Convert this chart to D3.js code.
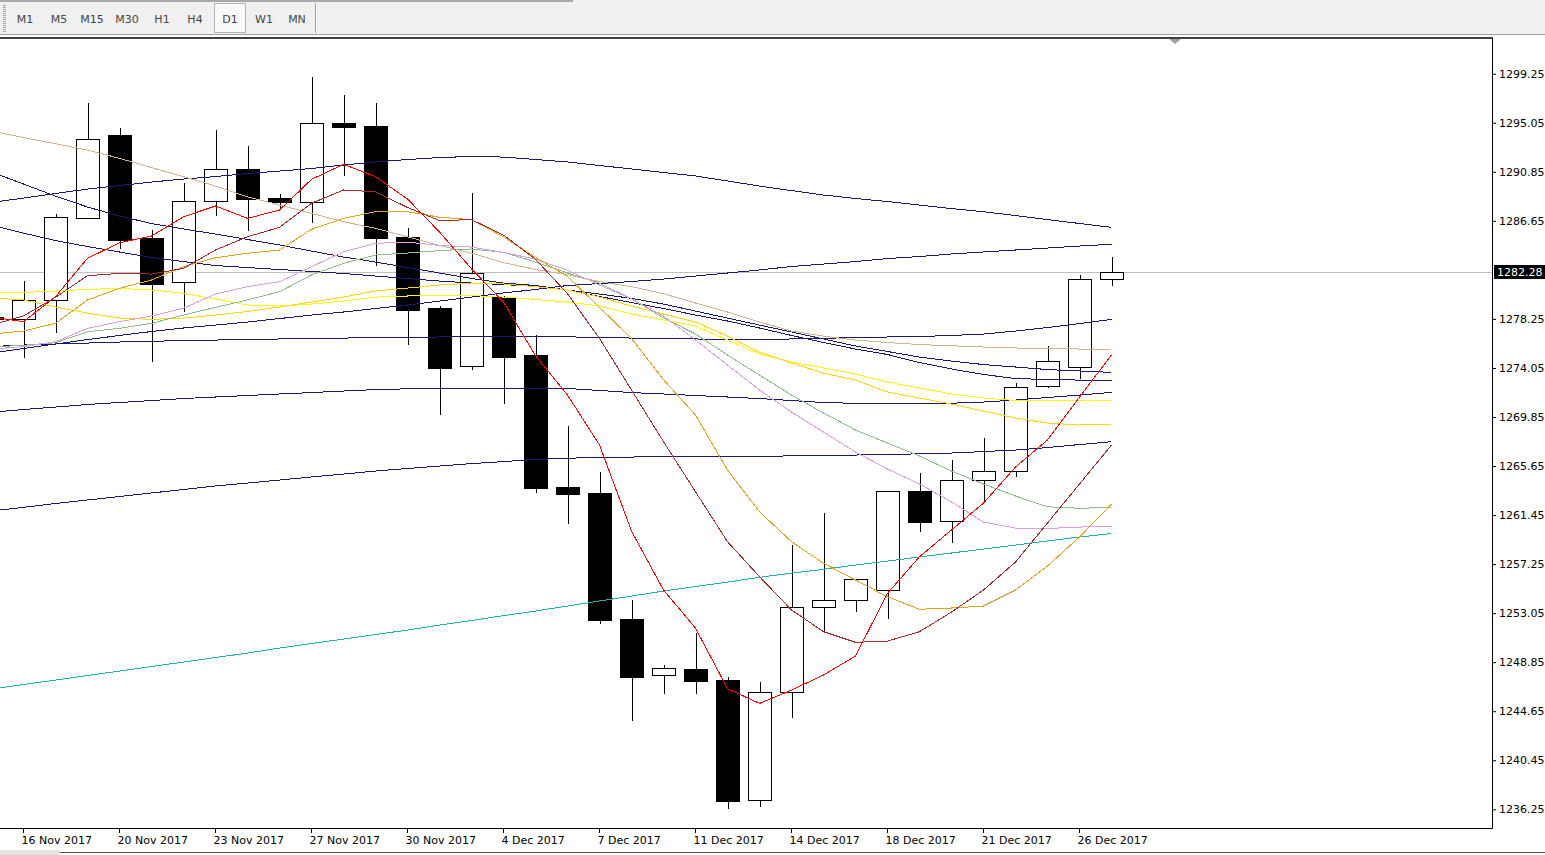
<!DOCTYPE html>
<html>
<head>
<meta charset="utf-8">
<script src="https://cdn.jsdelivr.net/npm/d3@7"></script>
<style>
  html, body { margin: 0; padding: 0; background: #fff; }
  svg { display: block; font-family: "DejaVu Sans", sans-serif; }
</style>
</head>
<body>
<script>
// Daily bars, XAUUSD D1 (15 Nov 2017 is only partly visible on the left edge)
const dates = ["2017-11-15","2017-11-16","2017-11-17","2017-11-19","2017-11-20","2017-11-21","2017-11-22","2017-11-23","2017-11-24",
  "2017-11-26","2017-11-27","2017-11-28","2017-11-29","2017-11-30","2017-12-01","2017-12-03","2017-12-04","2017-12-05",
  "2017-12-06","2017-12-07","2017-12-08","2017-12-10","2017-12-11","2017-12-12","2017-12-13","2017-12-14","2017-12-15",
  "2017-12-17","2017-12-18","2017-12-19","2017-12-20","2017-12-21","2017-12-22","2017-12-24","2017-12-26","2017-12-27"];
const opens  = [1278.45,1278.22,1279.87,1286.87,1294.00,1285.18,1281.38,1288.32,1291.09,1288.60,1288.24,1295.03,1294.77,1285.25,1279.17,1274.19,1280.15,1275.17,
  1263.87,1263.34,1252.55,1247.73,1248.27,1247.32,1237.02,1246.27,1253.55,1254.15,1255.01,1263.51,1260.91,1264.43,1265.20,1272.50,1274.10,1281.64];
const highs  = [1280.20,1281.50,1287.23,1296.74,1294.60,1285.86,1289.89,1294.43,1293.06,1288.95,1298.99,1297.43,1296.74,1286.04,1279.32,1289.02,1280.24,1276.87,
  1269.09,1265.14,1254.17,1248.63,1251.35,1247.55,1247.15,1258.89,1261.63,1255.95,1263.55,1265.05,1266.16,1268.05,1272.76,1275.93,1282.01,1283.55];
const lows   = [1276.90,1274.88,1277.07,1286.80,1284.24,1274.58,1278.87,1287.09,1285.80,1287.58,1286.49,1290.49,1282.81,1276.05,1270.06,1273.90,1271.00,1263.36,
  1260.71,1252.16,1243.81,1246.12,1246.15,1236.30,1236.47,1244.09,1251.46,1253.17,1252.57,1260.02,1259.03,1262.68,1264.73,1272.36,1273.13,1281.09];
const closes = [1278.21,1279.87,1286.98,1293.63,1285.03,1281.26,1288.32,1291.06,1288.54,1288.24,1295.00,1294.71,1285.20,1279.05,1274.07,1282.18,1275.01,1263.81,
  1263.22,1252.49,1247.61,1248.35,1247.26,1236.99,1246.27,1253.55,1254.15,1255.95,1263.48,1260.88,1264.43,1265.20,1272.39,1274.62,1281.64,1282.28];

// moving averages, one value per bar
const maRed = [1278.41,1278.01,1280.15,1283.44,1284.77,1285.35,1287.00,1287.92,1286.86,1287.57,1290.20,1291.49,1290.43,1288.52,1285.69,1282.54,1279.69,1275.10,
  1271.73,1267.45,1260.08,1255.03,1251.77,1246.58,1245.32,1246.46,1247.75,1249.38,1254.75,1257.88,1260.17,1262.48,1265.56,1267.88,1271.56,1275.16];
const maBrown = [1277.73,1278.50,1280.10,1281.95,1282.15,1282.09,1282.58,1284.15,1285.29,1286.09,1288.15,1289.29,1289.14,1287.79,1286.67,1286.75,1285.43,1283.36,
  1280.41,1276.58,1272.16,1267.73,1263.45,1259.17,1256.17,1253.32,1251.46,1250.55,1250.66,1251.46,1253.14,1255.03,1257.43,1260.77,1264.11,1267.45];
const maGoldenrod = [1276.95,1277.21,1277.87,1279.87,1280.87,1281.58,1282.72,1283.49,1283.87,1284.15,1285.92,1286.86,1287.43,1287.43,1286.96,1286.75,1285.28,1283.51,
  1281.89,1279.23,1276.58,1273.04,1270.02,1265.31,1261.73,1259.17,1257.32,1255.89,1254.45,1253.38,1253.49,1253.66,1255.03,1257.08,1259.57,1262.39];
const maTan = [1294.34,1293.78,1293.25,1292.71,1292.00,1291.21,1290.43,1289.63,1288.71,1288.00,1287.29,1286.57,1286.01,1285.28,1284.54,1283.89,1283.07,1282.48,
  1282.03,1281.44,1281.01,1280.41,1279.61,1278.84,1277.98,1277.21,1276.78,1276.44,1276.23,1276.05,1275.95,1275.84,1275.76,1275.70,1275.67,1275.64];
const maPlum = [1275.67,1275.87,1276.29,1277.44,1278.01,1278.50,1279.16,1280.38,1281.01,1281.43,1282.72,1284.00,1284.72,1284.83,1284.54,1284.40,1283.95,1283.36,
  1282.42,1281.15,1279.97,1278.50,1276.44,1274.30,1272.16,1270.27,1268.56,1266.85,1265.39,1264.11,1262.57,1260.85,1260.34,1260.30,1260.42,1260.51];
const maSeaGreen = [1275.84,1275.99,1276.21,1277.15,1277.44,1277.87,1278.58,1279.24,1279.87,1280.58,1282.01,1283.01,1283.72,1283.89,1284.10,1284.24,1283.95,1283.12,
  1282.18,1281.30,1279.97,1278.35,1276.95,1275.16,1273.44,1271.73,1270.19,1268.73,1267.62,1266.51,1265.22,1264.11,1263.08,1262.16,1262.03,1262.11];
const maYellow = [1280.47,1280.51,1280.64,1280.77,1280.87,1280.72,1280.44,1279.95,1279.44,1279.35,1279.52,1279.78,1280.12,1280.21,1280.29,1280.25,1280.12,1279.91,
  1279.69,1279.35,1278.67,1278.15,1277.64,1276.44,1275.24,1274.56,1274.04,1273.53,1272.84,1272.33,1271.82,1271.47,1271.26,1271.26,1271.30,1271.30];
const maGold = [1280.04,1279.87,1279.27,1278.75,1278.32,1278.21,1278.32,1278.58,1278.88,1279.27,1279.69,1280.12,1280.64,1280.89,1281.15,1281.30,1281.24,1281.01,
  1280.72,1280.12,1279.35,1278.67,1277.98,1276.78,1275.41,1274.47,1273.61,1273.01,1271.99,1271.47,1270.96,1270.36,1269.76,1269.33,1269.16,1269.25];
const maNavy1 = [1288.22,1288.60,1288.99,1289.37,1289.67,1289.97,1290.23,1290.44,1290.70,1290.91,1291.13,1291.43,1291.69,1291.90,1292.07,1292.16,1292.11,1291.90,
  1291.69,1291.39,1291.09,1290.79,1290.49,1290.06,1289.63,1289.24,1288.86,1288.56,1288.30,1288.00,1287.70,1287.43,1287.10,1286.76,1286.42,1286.09];
const maNavy2 = [1290.83,1289.80,1288.77,1287.83,1287.06,1286.42,1285.95,1285.52,1285.05,1284.58,1284.06,1283.55,1283.12,1282.65,1282.18,1281.71,1281.32,1281.11,
  1280.72,1280.17,1279.65,1279.14,1278.58,1278.07,1277.47,1276.83,1276.23,1275.67,1275.20,1274.51,1273.96,1273.49,1273.14,1273.06,1273.01,1273.01];
const maNavy3 = [1286.29,1285.60,1284.96,1284.45,1283.98,1283.51,1283.16,1282.82,1282.65,1282.48,1282.32,1282.14,1281.92,1281.71,1281.49,1281.32,1281.19,1281.04,
  1280.72,1280.38,1280.01,1279.52,1278.92,1278.32,1277.72,1277.13,1276.53,1275.93,1275.46,1274.98,1274.64,1274.34,1274.13,1273.91,1273.79,1273.67];
const maNavy4 = [1275.88,1276.01,1276.10,1276.18,1276.27,1276.33,1276.40,1276.44,1276.48,1276.53,1276.57,1276.61,1276.64,1276.67,1276.70,1276.71,1276.72,1276.72,
  1276.71,1276.67,1276.61,1276.57,1276.53,1276.50,1276.50,1276.53,1276.59,1276.65,1276.70,1276.74,1276.83,1276.95,1277.21,1277.51,1277.85,1278.21];
const maNavy5 = [1270.25,1270.49,1270.70,1270.92,1271.09,1271.26,1271.43,1271.56,1271.69,1271.82,1271.94,1272.07,1272.20,1272.26,1272.30,1272.33,1272.33,1272.33,
  1272.29,1272.12,1271.94,1271.82,1271.69,1271.56,1271.43,1271.26,1271.09,1271.02,1271.00,1271.00,1271.03,1271.13,1271.30,1271.52,1271.73,1271.96];
const maNavy6 = [1261.80,1262.11,1262.44,1262.74,1263.04,1263.34,1263.64,1263.94,1264.19,1264.45,1264.71,1264.96,1265.22,1265.44,1265.65,1265.86,1266.03,1266.21,
  1266.32,1266.38,1266.42,1266.44,1266.46,1266.48,1266.50,1266.51,1266.55,1266.59,1266.65,1266.69,1266.76,1266.89,1267.02,1267.23,1267.49,1267.73];
const maNavy7 = [1275.33,1275.71,1276.10,1276.48,1276.83,1277.17,1277.47,1277.72,1277.98,1278.28,1278.58,1278.84,1279.14,1279.44,1279.78,1280.12,1280.47,1280.77,
  1281.11,1281.28,1281.45,1281.66,1281.92,1282.18,1282.44,1282.74,1282.95,1283.16,1283.42,1283.59,1283.81,1283.98,1284.15,1284.32,1284.49,1284.64];
const maTeal = [1246.55,1246.94,1247.32,1247.71,1248.09,1248.48,1248.86,1249.25,1249.63,1250.06,1250.45,1250.83,1251.22,1251.60,1252.03,1252.42,1252.84,1253.23,
  1253.66,1254.09,1254.51,1254.94,1255.33,1255.71,1256.12,1256.48,1256.80,1257.17,1257.51,1257.86,1258.20,1258.54,1258.88,1259.23,1259.57,1259.87];

const priceTicks = [1236.25,1240.45,1244.65,1248.85,1253.05,1257.25,1261.45,1265.65,1269.85,1274.05,1278.25,1286.65,1290.85,1295.05,1299.25];
const dateTicks = ["2017-11-16","2017-11-20","2017-11-23","2017-11-27","2017-11-30","2017-12-04","2017-12-07","2017-12-11","2017-12-14","2017-12-18","2017-12-21","2017-12-26"];
const lastPrice = 1282.28;
const periods = ["M1","M5","M15","M30","H1","H4","D1","W1","MN"];

const W = 1545, H = 855;
const plot = { left: 0, right: 1492, top: 38, bottom: 828 };

const svg = d3.select("body").append("svg")
  .attr("width", W)
  .attr("height", H);

// toolbar strip
svg.append("rect").attr("x", 0).attr("y", 0).attr("width", W).attr("height", 36).attr("fill", "#f0f0f0");
svg.append("rect").attr("x", 0).attr("y", 0).attr("width", 573).attr("height", 2).attr("fill", "#a8a8a8");
svg.append("line").attr("x1", 0).attr("x2", W).attr("y1", 34.5).attr("y2", 34.5).attr("stroke", "#a0a0a0");
svg.append("rect").attr("x", 0).attr("y", 35).attr("width", W).attr("height", 2).attr("fill", "#fff");

// gripper dots
svg.append("g").selectAll("rect")
  .data(d3.range(5, 33, 2))
  .enter().append("rect")
  .attr("x", 3).attr("y", d => d).attr("width", 3).attr("height", 1).attr("fill", "#a0a0a0");

const periodX = [25, 59, 92, 127, 162, 195, 230, 264, 297];
svg.append("rect").attr("x", 214.5).attr("y", 3.5).attr("width", 31).attr("height", 29)
  .attr("fill", "#f9f9f9").attr("stroke", "#b4b4b4");
svg.append("g").selectAll("text")
  .data(periods)
  .enter().append("text")
  .attr("x", (d, i) => periodX[i])
  .attr("y", 23)
  .attr("text-anchor", "middle")
  .attr("font-size", 11)
  .attr("fill", "#444")
  .text(d => d);
svg.append("line").attr("x1", 315.5).attr("x2", 315.5).attr("y1", 3).attr("y2", 33).attr("stroke", "#a0a0a0");
svg.append("line").attr("x1", 316.5).attr("x2", 316.5).attr("y1", 3).attr("y2", 33).attr("stroke", "#fff");

// scales
const x = d3.scaleBand()
  .domain(dates)
  .range([-24.5, -24.5 + 32 * dates.length])
  .paddingInner(0.28)
  .paddingOuter(0.14);
const cx = d => x(d) + x.bandwidth() / 2;

const y = d3.scaleLinear()
  .domain([1236.25, 1299.25])
  .range([809.3, 73.7]);

svg.append("clipPath").attr("id", "plotclip")
  .append("rect").attr("x", 0).attr("y", plot.top + 1).attr("width", plot.right).attr("height", plot.bottom - plot.top - 1);

const chart = svg.append("g").attr("clip-path", "url(#plotclip)");

// current price line
chart.append("line")
  .attr("x1", 0).attr("x2", plot.right)
  .attr("y1", Math.round(y(lastPrice)) + 0.5).attr("y2", Math.round(y(lastPrice)) + 0.5)
  .attr("stroke", "#c0c0c0");

// candles
const bars = dates.map((d, i) => ({ date: d, o: opens[i], h: highs[i], l: lows[i], c: closes[i] }));

chart.selectAll(".wick")
  .data(bars)
  .enter().append("line")
  .attr("class", "wick")
  .attr("x1", d => Math.round(cx(d.date)) + 0.5)
  .attr("x2", d => Math.round(cx(d.date)) + 0.5)
  .attr("y1", d => y(d.h))
  .attr("y2", d => y(d.l))
  .attr("stroke", "#000")
  .attr("shape-rendering", "crispEdges");

chart.selectAll(".body")
  .data(bars)
  .enter().append("rect")
  .attr("class", "body")
  .attr("x", d => Math.round(cx(d.date) - 11.5) + 0.5)
  .attr("width", 23)
  .attr("y", d => Math.round(y(Math.max(d.o, d.c))) + 0.5)
  .attr("height", d => Math.max(1, Math.round(y(Math.min(d.o, d.c))) - Math.round(y(Math.max(d.o, d.c)))))
  .attr("fill", d => d.c >= d.o ? "#fff" : "#000")
  .attr("stroke", "#000")
  .attr("shape-rendering", "crispEdges");

// moving averages drawn on top of the candles
const mas = [
  { values: maTeal, color: "#20b2aa" },
  { values: maNavy1, color: "#191970" },
  { values: maNavy2, color: "#191970" },
  { values: maNavy3, color: "#191970" },
  { values: maNavy4, color: "#191970" },
  { values: maNavy5, color: "#191970" },
  { values: maNavy6, color: "#191970" },
  { values: maNavy7, color: "#191970" },
  { values: maTan, color: "#d2b48c" },
  { values: maYellow, color: "#ffff00" },
  { values: maGold, color: "#ffd700" },
  { values: maSeaGreen, color: "#8fbc8f" },
  { values: maPlum, color: "#dda0dd" },
  { values: maGoldenrod, color: "#daa520" },
  { values: maBrown, color: "#a52a2a" },
  { values: maRed, color: "#ff0000" }
];

const line = d3.line()
  .x((d, i) => cx(dates[i]))
  .y(d => y(d));

chart.selectAll(".ma")
  .data(mas)
  .enter().append("path")
  .attr("class", "ma")
  .attr("d", d => line(d.values))
  .attr("fill", "none")
  .attr("stroke", d => d.color)
  .attr("stroke-width", 1)
  .attr("shape-rendering", "crispEdges");

// frame
svg.append("line").attr("x1", 0).attr("x2", plot.right + 0.5).attr("y1", 38).attr("y2", 38).attr("stroke", "#000").attr("stroke-width", 1.5);
svg.append("line").attr("x1", plot.right + 0.5).attr("x2", plot.right + 0.5).attr("y1", 37.5).attr("y2", plot.bottom + 0.5).attr("stroke", "#000");
svg.append("line").attr("x1", 0).attr("x2", plot.right + 0.5).attr("y1", plot.bottom + 0.5).attr("y2", plot.bottom + 0.5).attr("stroke", "#000");

// shift marker
svg.append("path").attr("d", "M1169,39 L1181,39 L1175,44 Z").attr("fill", "#a0a0a0");

// price axis
svg.append("g")
  .attr("transform", `translate(${plot.right},0)`)
  .call(d3.axisRight(y).tickValues(priceTicks).tickSize(4).tickPadding(3).tickFormat(d3.format(".2f")))
  .call(g => g.select(".domain").remove())
  .call(g => g.selectAll("text").attr("font-family", "DejaVu Sans").attr("font-size", 11).attr("fill", "#000"))
  .call(g => g.selectAll("line").attr("stroke", "#000"));

// last price label, centred on the price line
const py = Math.round(y(lastPrice));
svg.append("rect").attr("x", 1494).attr("y", py - 7).attr("width", 51).attr("height", 14).attr("fill", "#000");
svg.append("text").attr("x", 1497).attr("y", py + 4).attr("font-size", 11).attr("fill", "#fff").text(d3.format(".2f")(lastPrice));

// time axis
const fmt = d3.utcFormat("%-d %b %Y");
const parse = d3.utcParse("%Y-%m-%d");
svg.append("g")
  .attr("transform", `translate(0,${plot.bottom})`)
  .call(d3.axisBottom(x).tickValues(dateTicks).tickSize(5).tickFormat(d => fmt(parse(d))))
  .call(g => g.select(".domain").remove())
  .call(g => g.selectAll("line").attr("stroke", "#000"))
  .call(g => g.selectAll("text")
    .attr("font-family", "DejaVu Sans").attr("font-size", 11).attr("fill", "#000")
    .attr("text-anchor", "start").attr("x", -2).attr("y", 8));

// window bottom edge
svg.append("rect").attr("x", 0).attr("y", 850).attr("width", 60).attr("height", 5).attr("fill", "#e4e4e4");
svg.append("line").attr("x1", 60).attr("x2", W).attr("y1", 852.5).attr("y2", 852.5).attr("stroke", "#505050");
</script>
</body>
</html>
